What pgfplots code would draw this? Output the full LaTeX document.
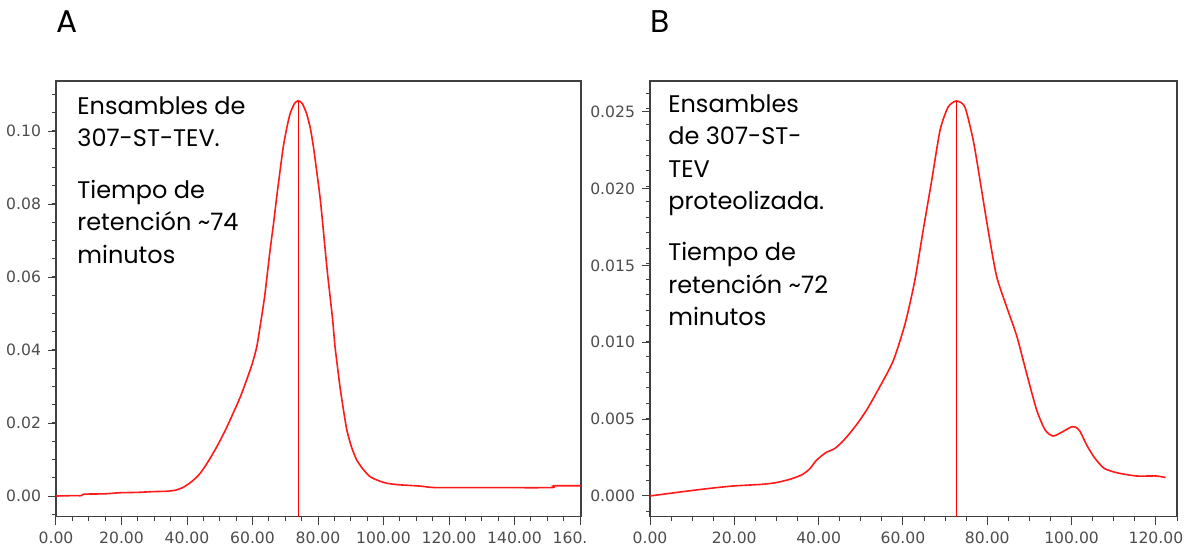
\documentclass[border=0pt]{standalone}
\usepackage{fontspec}
\setmainfont{Poppins}
\newfontfamily\tickfont{DejaVu Sans}
\usepackage{pgfplots}
\pgfplotsset{compat=1.18}

% shared look of both chromatogram panels
\pgfplotsset{
  chrom/.style={
    scale only axis,
    anchor=south west,
    axis line style={black!75, line width=0.7pt},
    tick align=outside,
    xtick pos=bottom, ytick pos=left,
    major tick length=4pt, minor tick length=2pt,
    every tick/.style={black!75, line width=0.5pt},
    tick label style={font=\fontsize{7.8}{9}\selectfont\tickfont, text=black!70},
    /pgf/number format/assume math mode=true,
    scaled ticks=false,
    xticklabel style={/pgf/number format/fixed, /pgf/number format/fixed zerofill,
      /pgf/number format/precision=2},
    clip=false,
  },
  curve/.style={color=red!90, line width=0.8pt, mark=none, smooth, tension=0.4},
  peak/.style={color=red, line width=0.65pt, mark=none},
}
\tikzset{
  note/.style={anchor=north west, align=left, inner sep=0pt,
    font=\fontsize{12}{16.2}\selectfont},
}

\begin{document}
\begin{tikzpicture}
\useasboundingbox (0,0) rectangle (592.5pt,274pt);

\node[anchor=base west, inner sep=0pt, font=\fontsize{15.7}{18}\selectfont] at (28pt,258pt) {A};
\node[anchor=base west, inner sep=0pt, font=\fontsize{15.7}{18}\selectfont] at (325pt,258pt) {B};

% ---------- panel A ----------
\begin{axis}[chrom,
  at={(28pt,15.65pt)}, width=262.5pt, height=217.85pt,
  xmin=0, xmax=160.3, ymin=-0.00567, ymax=0.1137,
  xtick={0,20,...,160},
  xticklabels={0.00,20.00,40.00,60.00,80.00,100.00,120.00,140.00,{160.\phantom{00}}},
  minor xtick={0,5,...,160},
  ytick={0,0.02,0.04,0.06,0.08,0.10},
  minor ytick={-0.005,0,0.005,...,0.111},
  yticklabel style={/pgf/number format/fixed, /pgf/number format/fixed zerofill,
    /pgf/number format/precision=2},
]
\addplot[curve] coordinates {
(0,0) (5,0.0001) (7.8,0.0001) (8.5,0.0005) (15,0.0006) (19.5,0.0009)
(25,0.0010) (29.5,0.0012) (33.8,0.0013) (36.5,0.0016) (38.9,0.0024)
(41.5,0.0040) (44.0,0.0062) (46.5,0.0095) (49.1,0.0135) (51.7,0.0180)
(54.1,0.0227) (56.3,0.0272) (58.2,0.0318) (59.9,0.0362) (61.3,0.0409)
(62.5,0.0475) (63.7,0.0546) (64.6,0.0615) (65.5,0.0683) (66.5,0.0752)
(67.4,0.0820) (68.4,0.0890) (69.4,0.0957) (70.5,0.1010) (71.5,0.1048)
(72.8,0.1075) (74.0,0.1083) (75.2,0.1075) (76.5,0.1048) (77.6,0.1010)
(78.6,0.0957) (79.6,0.0890) (80.6,0.0820) (81.4,0.0750) (82.1,0.0683)
(82.9,0.0610) (83.7,0.0546) (84.5,0.0480) (85.2,0.0409) (86.0,0.0350)
(86.7,0.0300) (87.7,0.0240) (88.8,0.0181) (90.2,0.0135) (91.8,0.0099)
(93.8,0.0073) (95.9,0.0053) (98.5,0.0042) (101,0.0035) (104.4,0.0031)
(108,0.0029) (111.4,0.0027) (116,0.0023) (130,0.0023) (151,0.0023)
(152,0.0028) (160.3,0.0028)
};
\addplot[peak] coordinates {(74.0,-0.00567) (74.0,0.1083)};
\node[note] at (rel axis cs:0.04,0.965)
  {Ensambles de\\307-ST-TEV.\\[9.5pt]Tiempo de\\retención \textasciitilde74\\minutos};
\end{axis}

% ---------- panel B ----------
\begin{axis}[chrom,
  at={(325pt,15.65pt)}, width=263.5pt, height=217.85pt,
  xmin=0, xmax=125, ymin=-0.00135, ymax=0.0270,
  xtick={0,20,...,120},
  minor xtick={0,5,...,125},
  ytick={0,0.005,0.010,0.015,0.020,0.025},
  minor ytick={-0.001,0,0.001,...,0.0265},
  yticklabel style={/pgf/number format/fixed, /pgf/number format/fixed zerofill,
    /pgf/number format/precision=3},
]
\addplot[curve] coordinates {
(0,0) (6.1,0.00022) (13.4,0.00047) (19.8,0.00065) (26.2,0.00075)
(29.8,0.00086) (33.4,0.0011) (36.2,0.0014) (38,0.0018) (39.4,0.0023)
(41.6,0.0028) (43.9,0.0031) (46.2,0.0037) (48.9,0.0046) (51.4,0.0056)
(54.5,0.0071) (57.7,0.0088) (60.5,0.0112) (62.8,0.0140) (64.8,0.0173)
(66.8,0.0205) (68.8,0.0238) (70.7,0.0253) (72.7,0.0257) (74.7,0.0253)
(76.7,0.0231) (78.3,0.0205) (80.2,0.0173) (82.2,0.0143) (84.6,0.0123)
(87.0,0.0104) (89.3,0.0080) (91.7,0.0056) (93.7,0.0043) (95.6,0.0039)
(98.0,0.0042) (100.0,0.0045) (101,0.00447) (102.0,0.0042) (103.6,0.0033)
(105.4,0.0025) (107.7,0.0018) (110.9,0.0015) (115.4,0.0013) (120,0.0013)
(122.3,0.0012)
};
\addplot[peak] coordinates {(72.7,-0.00135) (72.7,0.0257)};
\node[note] at (rel axis cs:0.034,0.97)
  {Ensambles\\de 307-ST-\\TEV\\proteolizada.\\[9.5pt]Tiempo de\\retención \textasciitilde72\\minutos};
\end{axis}
\end{tikzpicture}
\end{document}
